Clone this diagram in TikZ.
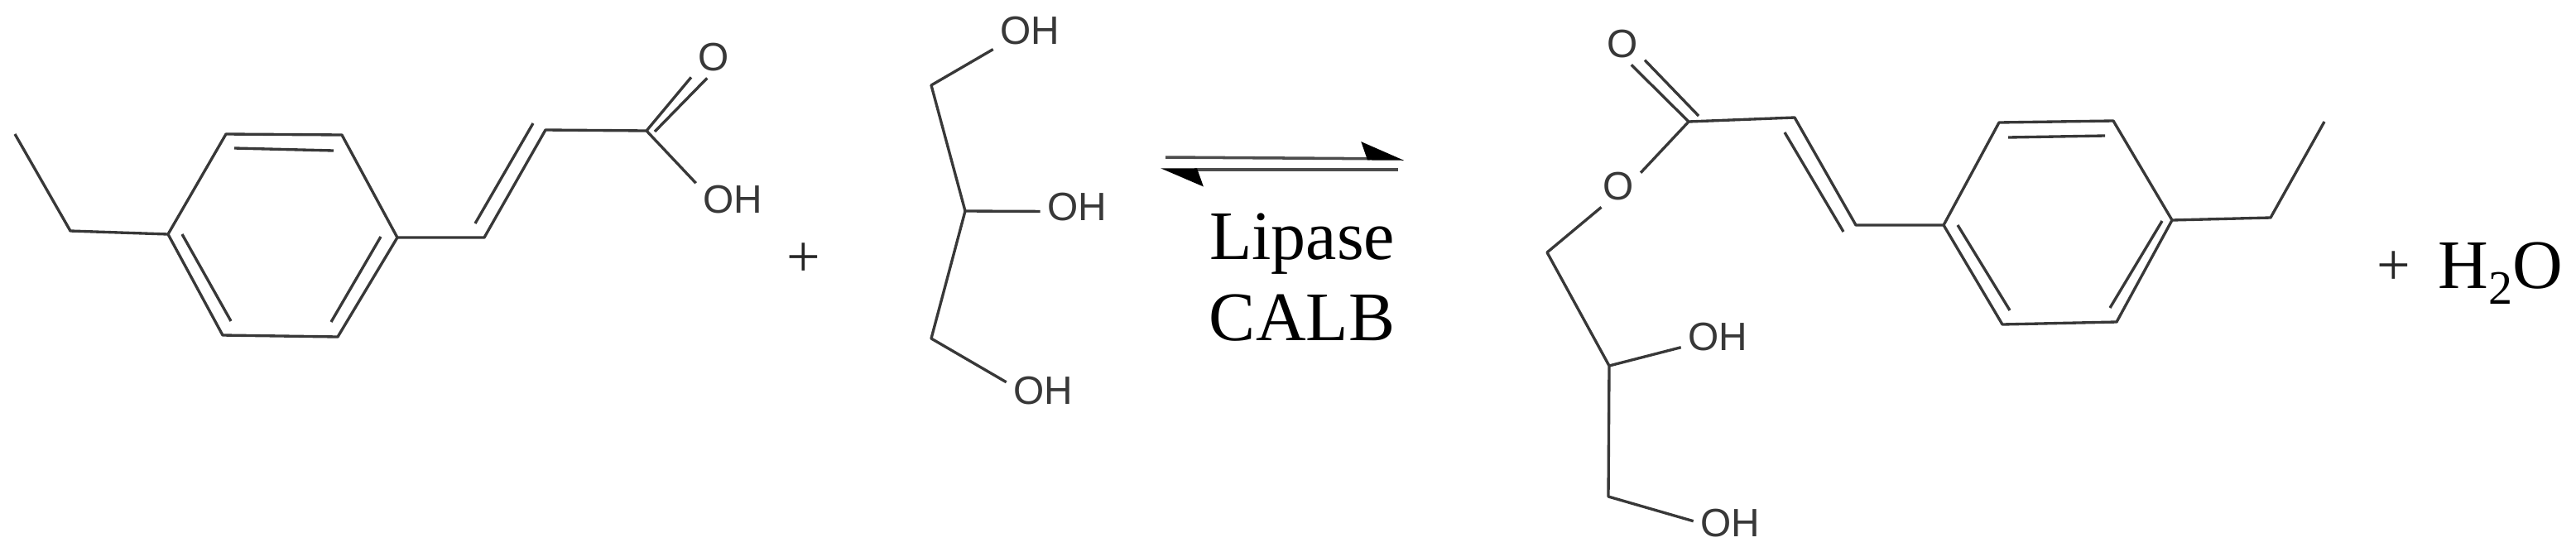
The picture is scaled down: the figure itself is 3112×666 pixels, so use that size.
\documentclass[tikz,border=0pt]{standalone}
\usepackage{fontspec}
\setmainfont{Liberation Serif}
\newfontfamily\atomfont{Liberation Sans}
\usetikzlibrary{arrows.meta}
\definecolor{bondgray}{gray}{0.22}
\tikzset{
  atom/.style={font=\atomfont\fontsize{13.6}{13.6}\selectfont,text=bondgray,inner sep=2.2pt},
  reagent/.style={font=\fontsize{23.9}{23.9}\selectfont,text=black,inner sep=0pt,anchor=base},
  plussign/.style={font=\fontsize{20.5}{20.5}\selectfont,text=black!85,inner sep=0pt},
  bond/.style={draw=bondgray,line width=0.95pt,line join=round},
  halfarrow/.style={draw=black!70,line width=1pt,-{Stealth[harpoon,length=13.5pt,width=11.5pt,inset=2pt,black]}}
}
\begin{document}
\begin{tikzpicture}[x=0.01cm,y=-0.01cm]
  \useasboundingbox (0,0) rectangle (3112,666);

  \path (18,162) coordinate (A1);
  \path (85,279) coordinate (A2);
  \path (203,283) coordinate (A3);
  \path (273,162) coordinate (A4);
  \path (413,163) coordinate (A5);
  \path (480,287) coordinate (A6);
  \path (408,407) coordinate (A7);
  \path (269,405) coordinate (A8);
  \path (585,287) coordinate (A9);
  \path (659,157) coordinate (A10);
  \path (781,158) coordinate (A11);
  \path (791,159) coordinate (A12);
  \path (283,179) coordinate (A13);
  \path (403,182) coordinate (A14);
  \path (220,283) coordinate (A15);
  \path (279,388) coordinate (A16);
  \path (460,286) coordinate (A17);
  \path (400,389) coordinate (A18);
  \path (574,270) coordinate (A19);
  \path (644,149) coordinate (A20);
  \path (862,69) node[atom] (AO) {O};
  \path (885,241) node[atom] (AOH) {OH};
  \draw[bond] (A1) -- (A2) -- (A3) -- (A4) -- (A5) -- (A6) -- (A7) -- (A8) -- (A3);
  \draw[bond] (A6) -- (A9) -- (A10) -- (A11) -- (AO.222);
  \draw[bond] (A12) -- (AO.253);
  \draw[bond] (A11) -- (AOH.156);
  \draw[bond] (A13) -- (A14);
  \draw[bond] (A15) -- (A16);
  \draw[bond] (A17) -- (A18);
  \draw[bond] (A19) -- (A20);

  \path (971,314) node[plussign] (P1) {+};

  \path (1125,103) coordinate (B1);
  \path (1166,255) coordinate (B2);
  \path (1125,409) coordinate (B3);
  \path (1244,37) node[atom] (BOH1) {OH};
  \path (1301,250) node[atom] (BOH2) {OH};
  \path (1260,472) node[atom] (BOH3) {OH};
  \draw[bond] (BOH1.207) -- (B1) -- (B2) -- (B3) -- (BOH3.167);
  \draw[bond] (B2) -- (BOH2.187);

  \path (1408,190) coordinate (R1);
  \path (1696,192) coordinate (R2);
  \path (1689,205) coordinate (R3);
  \path (1402,205) coordinate (R4);
  \draw[halfarrow] (R1) -- (R2);
  \draw[halfarrow] (R3) -- (R4);
  \path (1573,313) node[reagent] (L1) {Lipase};
  \path (1573,411) node[reagent] (L2) {CALB};

  \path (2040,147) coordinate (C1);
  \path (2052,140) coordinate (C2);
  \path (2168,142) coordinate (C3);
  \path (2242,272) coordinate (C4);
  \path (2348,272) coordinate (C5);
  \path (2415,148) coordinate (C6);
  \path (2553,146) coordinate (C7);
  \path (2624,266) coordinate (C8);
  \path (2557,389) coordinate (C9);
  \path (2419,392) coordinate (C10);
  \path (2743,263) coordinate (C11);
  \path (2808,147) coordinate (C12);
  \path (1869,305) coordinate (C13);
  \path (1944,442) coordinate (C14);
  \path (1943,600) coordinate (C15);
  \path (2156,160) coordinate (C16);
  \path (2227,280) coordinate (C17);
  \path (2426,166) coordinate (C18);
  \path (2543,164) coordinate (C19);
  \path (2365,272) coordinate (C20);
  \path (2428,375) coordinate (C21);
  \path (2612,267) coordinate (C22);
  \path (2549,372) coordinate (C23);
  \path (1960,53) node[atom] (CO1) {O};
  \path (1955,225) node[atom] (CO2) {O};
  \path (2075,407) node[atom] (COH1) {OH};
  \path (2090,632) node[atom] (COH2) {OH};
  \draw[bond] (CO1.293) -- (C1) -- (CO2.31);
  \draw[bond] (CO1.324) -- (C2);
  \draw[bond] (C1) -- (C3) -- (C4) -- (C5) -- (C6) -- (C7) -- (C8) -- (C9) -- (C10) -- (C5);
  \draw[bond] (C8) -- (C11) -- (C12);
  \draw[bond] (CO2.231) -- (C13) -- (C14) -- (C15) -- (COH2.177);
  \draw[bond] (C14) -- (COH1.196);
  \draw[bond] (C16) -- (C17);
  \draw[bond] (C18) -- (C19);
  \draw[bond] (C20) -- (C21);
  \draw[bond] (C22) -- (C23);

  \path (2892,324) node[plussign] (P2) {+};
  \path (3021,348) node[reagent] (W) {H\raisebox{-5.4pt}{\fontsize{16.5}{16.5}\selectfont 2}O};
\end{tikzpicture}
\end{document}
